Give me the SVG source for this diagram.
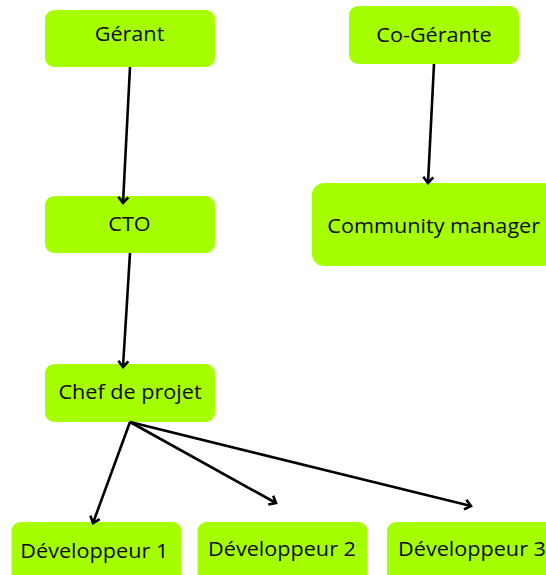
<svg xmlns="http://www.w3.org/2000/svg" width="546" height="575" viewBox="0 0 546 575">
<defs>
<style>
.box{fill:#a6ff00;}
.lbl{font-family:"Open Sans","Noto Sans",sans-serif;font-size:20.5px;fill:#0a0a0a;text-anchor:middle;}
.edge{stroke:#000;stroke-width:2.6;fill:none;}
</style>
<marker id="arr" markerUnits="userSpaceOnUse" markerWidth="14" markerHeight="14" refX="0" refY="0" viewBox="-8 -7 10 14" orient="auto" overflow="visible">
<path d="M-6,-5 L0,0 L-6,5" fill="none" stroke="#000" stroke-width="2.6" stroke-linejoin="miter"/>
</marker>
</defs>
<rect width="546" height="575" fill="#fff"/>
<g id="gerant"><rect class="box" x="45" y="10" width="170" height="57" rx="9"/><text class="lbl" transform="translate(129.5,41) scale(1.055,1)">Gérant</text></g>
<g id="co-gerante"><rect class="box" x="349" y="6" width="170" height="58" rx="9"/><text class="lbl" transform="translate(434,41.5) scale(1.055,1)">Co-Gérante</text></g>
<g id="cto"><rect class="box" x="45" y="196" width="170" height="57" rx="9"/><text class="lbl" transform="translate(129.5,230.7) scale(1.055,1)">CTO</text></g>
<g id="community-manager"><rect class="box" x="312" y="183" width="244" height="83" rx="12"/><text class="lbl" transform="translate(433.7,233) scale(1.055,1)">Community manager</text></g>
<g id="chef-de-projet"><rect class="box" x="45" y="364" width="170" height="58" rx="9"/><text class="lbl" transform="translate(130,399.3) scale(1.055,1)">Chef de projet</text></g>
<g id="dev1"><rect class="box" x="11.5" y="522" width="170" height="65" rx="9"/><text class="lbl" transform="translate(94.3,557.7) scale(1.055,1)">Développeur 1</text></g>
<g id="dev2"><rect class="box" x="197.5" y="522" width="170" height="65" rx="9"/><text class="lbl" transform="translate(282,555.7) scale(1.055,1)">Développeur 2</text></g>
<g id="dev3"><rect class="box" x="387" y="522" width="170" height="65" rx="9"/><text class="lbl" transform="translate(472,555.7) scale(1.055,1)">Développeur 3</text></g>
<g id="connectors">
<line class="edge" x1="130" y1="67" x2="123" y2="203" marker-end="url(#arr)"/>
<line class="edge" x1="434" y1="64" x2="428" y2="183" marker-end="url(#arr)"/>
<line class="edge" x1="130" y1="253" x2="123" y2="367" marker-end="url(#arr)"/>
<line class="edge" x1="130" y1="422" x2="93" y2="523" marker-end="url(#arr)"/>
<line class="edge" x1="130" y1="422" x2="276" y2="503" marker-end="url(#arr)"/>
<line class="edge" x1="130" y1="422" x2="471" y2="506" marker-end="url(#arr)"/>
</g>
</svg>
